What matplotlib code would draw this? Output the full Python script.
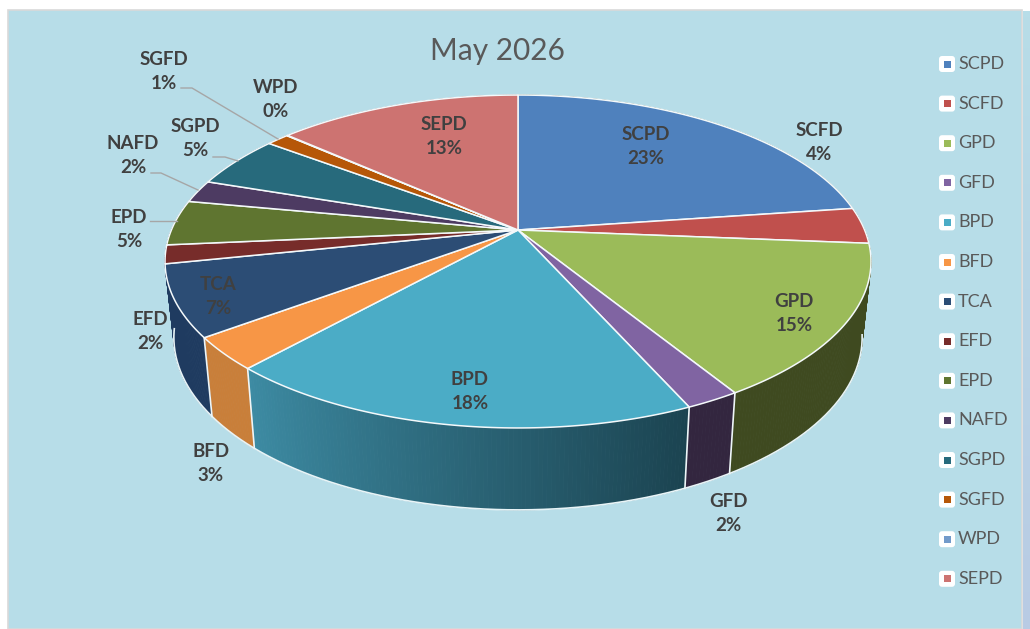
import numpy as np
import matplotlib
matplotlib.use("Agg")
import matplotlib.pyplot as plt
from matplotlib.colors import to_rgb
from matplotlib.patches import FancyBboxPatch, Rectangle

categories = ["SCPD", "SCFD", "GPD", "GFD", "BPD", "BFD", "TCA", "EFD", "EPD", "NAFD", "SGPD", "SGFD", "WPD", "SEPD"]
values = [22.8, 3.5, 14.9, 2.1, 18.4, 3.15, 6.9, 1.8, 4.4, 2.2, 5.1, 1.25, 0.05, 13.45]
pct_labels = ["23%", "4%", "15%", "2%", "18%", "3%", "7%", "2%", "5%", "2%", "5%", "1%", "0%", "13%"]
colors = ["#4F81BD", "#C0504D", "#9BBB59", "#8064A2", "#4BACC6", "#F79646", "#2C4D75",
          "#772C2A", "#5F7530", "#4D3B62", "#276A7C", "#B65708", "#729ACA", "#CD7371"]
wall_left = ["#3f4a20", "#3f4a20", "#3f4a20", "#33263f", "#3d8ba3", "#c97f3a", "#1f3b60",
             "#1f3b60", "#1f3b60", "#1f3b60", "#19434f", "#743705", "#496281", "#834947"]
wall_right = ["#3f4a20", "#3f4a20", "#3f4a20", "#33263f", "#1b4350", "#c97f3a", "#1f3b60",
              "#1f3b60", "#1f3b60", "#1f3b60", "#19434f", "#743705", "#496281", "#834947"]
label_x = [646, 819, 794, 728, 470, 211, 218, 150, 129, 133, 195, 164, 276, 444]
label_y = [146.5, 142.5, 313.5, 513.5, 391.5, 463.5, 296.5, 331.5, 229.5, 155.5, 138.5, 71.5, 99.5, 136.5]
title = "May 2026"

# pixel coordinates, pie is a circle seen in perspective
CX, CY = 518, 230
A, B, C = 346.6, 0.1892, 160.5


def top_xy(ang):
    u, v = np.sin(ang), np.cos(ang)
    d = 1 + B * v
    return CX + A * u / d, CY - C * v / d


def bottom_xy(ang):
    x, y = top_xy(ang)
    return CX + (x - CX) * 0.975, y + 75 + 0.035 * (y - CY)


fig = plt.figure(figsize=(10.3, 6.29), dpi=100, facecolor="white")
ax = fig.add_axes([0, 0, 1, 1])
ax.set_xlim(0, 1030)
ax.set_ylim(629, 0)
ax.axis("off")
plt.rcParams["font.family"] = ["Lato", "DejaVu Sans"]

ax.add_patch(Rectangle((8, 10), 1014, 619, fc="#B7DDE8", ec="#d9d9d9", lw=1.2, zorder=0))
strip = np.linspace(0, 1, 100).reshape(-1, 1, 1) * (np.array(to_rgb("#B9CBE4")) - np.array(to_rgb("#B7DDE8"))) + np.array(to_rgb("#B7DDE8"))
ax.imshow(strip, extent=(1023, 1030, 629, 11), aspect="auto", zorder=0)
ax.set_xlim(0, 1030)
ax.set_ylim(629, 0)

edges = np.radians(np.cumsum([0] + values) / sum(values) * 360)

# side walls
for i in range(len(values)):
    a0, a1 = edges[i], edges[i + 1]
    n = max(int((a1 - a0) / 0.01), 2)
    grid = np.linspace(a0, a1, n + 1)
    c0, c1 = np.array(to_rgb(wall_left[i])), np.array(to_rgb(wall_right[i]))
    for j in range(n):
        seg = np.linspace(grid[j], grid[j + 1], 3)
        tx, ty = top_xy(seg)
        bx, by = bottom_xy(seg)
        col = c1 + (c0 - c1) * (j + 0.5) / n
        ax.fill(np.r_[tx, bx[::-1]], np.r_[ty, by[::-1]], color=tuple(col), lw=0.6, zorder=2)

# white outline of the front walls
front = np.linspace(np.radians(100), np.radians(262), 200)
bx, by = bottom_xy(front)
ax.plot(bx, by, color="#e8f4f7", lw=1.2, zorder=3)
for i in [2, 3, 4, 5]:
    tx, ty = top_xy(edges[i + 1])
    bx, by = bottom_xy(edges[i + 1])
    ax.plot([tx, bx], [ty, by], color="#eef6f8", lw=1.2, zorder=3)

# top surface
for i in range(len(values)):
    arc = np.linspace(edges[i], edges[i + 1], 80)
    x, y = top_xy(arc)
    ax.fill(np.r_[CX, x], np.r_[CY, y], facecolor=colors[i], edgecolor="#f4f9fb", lw=1.1,
            joinstyle="round", zorder=4)

# leader lines
ax.plot([181, 192, 278], [88, 88, 139], color="#a6a6a6", lw=1, zorder=5)
ax.plot([213, 225, 238], [157, 157, 161], color="#a6a6a6", lw=1, zorder=5)
ax.plot([151, 161, 198], [173, 173, 190], color="#a6a6a6", lw=1, zorder=5)
ax.plot([150, 162, 177], [221, 221, 221], color="#a6a6a6", lw=1, zorder=5)

for i in range(len(categories)):
    ax.text(label_x[i], label_y[i], categories[i] + "\n" + pct_labels[i], ha="center", va="center",
            fontsize=13.5, fontweight="bold", color="#404040", linespacing=1.55, zorder=6)

ax.text(497, 51, title, ha="center", va="center", fontsize=21.5, color="#595959", zorder=6)

# legend
for i in range(len(categories)):
    y = 64 + i * 39.6
    ax.add_patch(FancyBboxPatch((941, y - 6), 12, 12, boxstyle="round,pad=2,rounding_size=3",
                                fc="white", ec="none", zorder=5))
    ax.add_patch(Rectangle((943.5, y - 3.5), 7, 7, fc=colors[i], ec="none", zorder=6))
    ax.text(958, y, categories[i], ha="left", va="center", fontsize=13, color="#595959", zorder=6)

fig.savefig("out.png", dpi=100)
